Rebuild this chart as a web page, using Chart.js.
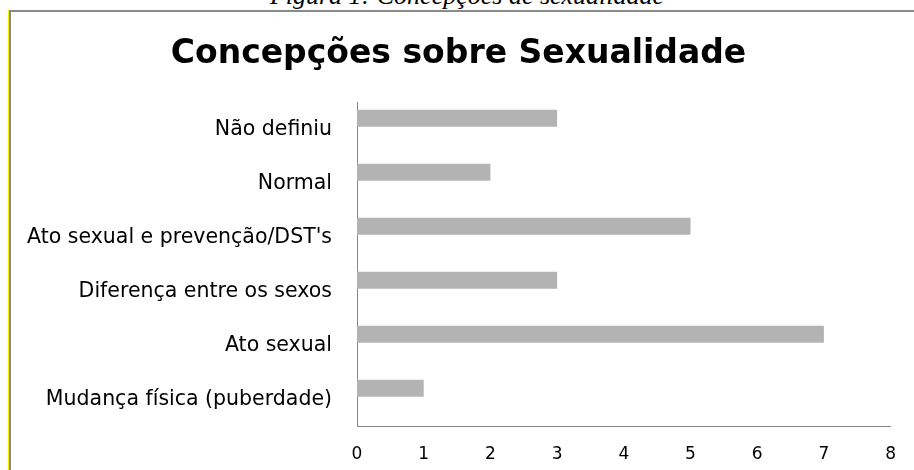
<!DOCTYPE html>
<html>
<head>
<meta charset="utf-8">
<script src="https://cdn.jsdelivr.net/npm/chart.js@4.4.1/dist/chart.umd.min.js"></script>
<style>
  html, body { margin: 0; padding: 0; background: #fff; overflow: hidden; }
  #caption {
    position: absolute; left: 0; width: 934px; top: -19px;
    text-align: center; font: italic 26px "Liberation Serif", serif; color: #000;
    line-height: 30px;
  }
  #frame {
    position: absolute; left: 9px; top: 10px; width: 920px; height: 480px;
    border-top: 2px solid #8a8a8a; border-left: 2px solid #8a8a8a;
    box-shadow: -1px 0 0 #f2f200;
  }
  #wrap { position: absolute; left: 0; top: 0; width: 914px; height: 470px; }
</style>
</head>
<body>
<div id="caption">Figura 1: Concepções de sexualidade</div>
<div id="frame"></div>
<div id="wrap"><canvas id="chart"></canvas></div>
<script>
const categories = ['Não definiu', 'Normal', "Ato sexual e prevenção/DST's", 'Diferença entre os sexos', 'Ato sexual', 'Mudança física (puberdade)'];
const counts = [3, 2, 5, 3, 7, 1];
const emptySeries = [null, null, null, null, null, null];
const xTicks = [0, 1, 2, 3, 4, 5, 6, 7, 8];

const ctx = document.getElementById('chart').getContext('2d');

new Chart(ctx, {
    type: 'bar',
    data: {
        labels: categories,
        datasets: [{
            data: counts,
            backgroundColor: '#b3b3b3',
            categoryPercentage: 0.847,
            barPercentage: 0.745
        }, {
            data: emptySeries,
            backgroundColor: '#b3b3b3',
            categoryPercentage: 0.847,
            barPercentage: 0.745
        }]
    },
    options: {
        indexAxis: 'y',
        responsive: true,
        maintainAspectRatio: false,
        animation: false,
        layout: { padding: { left: 24, right: 21, top: 0, bottom: -13 } },
        plugins: {
            legend: { display: false },
            tooltip: { enabled: false },
            title: {
                display: true,
                text: 'Concepções sobre Sexualidade',
                color: '#000',
                font: { family: 'DejaVu Sans', size: 33, weight: 'bold' },
                padding: { top: 35, bottom: 28 }
            }
        },
        scales: {
            x: {
                min: xTicks[0],
                max: xTicks[xTicks.length - 1],
                afterBuildTicks: axis => { axis.ticks = xTicks.map(v => ({ value: v })); },
                grid: { display: false, drawTicks: false },
                border: { display: true, color: '#868686', width: 1 },
                ticks: { color: '#000', padding: 18, font: { family: 'DejaVu Sans', size: 17 } }
            },
            y: {
                afterFit: axis => { axis.width = 333; },
                grid: { display: false, drawTicks: false },
                border: { display: true, color: '#868686', width: 1 },
                ticks: { color: '#000', padding: 25, font: { family: 'DejaVu Sans', size: 20.5 } }
            }
        }
    }
});
</script>
</body>
</html>
